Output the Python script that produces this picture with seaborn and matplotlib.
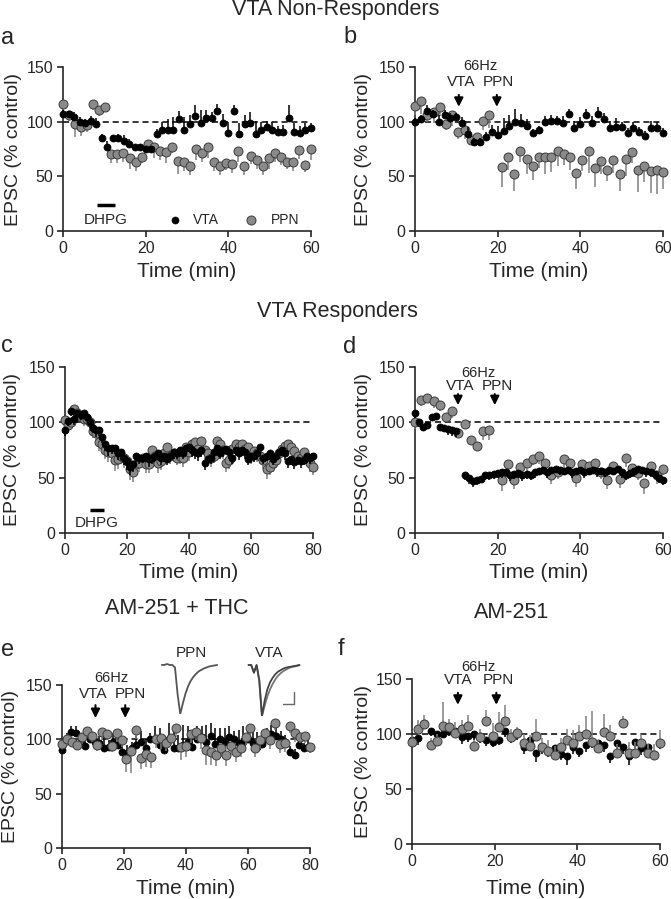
import numpy as np
import matplotlib
matplotlib.use("Agg")
import matplotlib.pyplot as plt
import seaborn as sns
from matplotlib.lines import Line2D

# ---------------- data ----------------
# a: VTA non-responders, DHPG
a_vta = [107, 107, 104, 100, 99, 101, 98, 85, 77, 85, 85, 82, 80, 77, 77, 75, 75, 89, 92, 92,
         92, 102, 92, 98, 105, 99, 103, 103, 110, 99, 90, 110, 89, 98, 99, 89, 92, 95, 92, 91,
         91, 103, 91, 90, 92, 94]
a_vta_err = [4, 3, 5, 4, 3, 4, 5, 4, 5, 3, 4, 6, 4, 3, 3, 3, 3, 4, 8, 10,
             12, 8, 12, 8, 10, 12, 8, 6, 6, 8, 10, 5, 10, 8, 10, 12, 8, 6, 8, 5,
             6, 12, 8, 6, 7, 5]
a_ppn = [116, 106, 98, 95, 97, 116, 111, 113, 70, 70, 71, 67, 63, 68, 80, 77, 73, 72, 77, 64,
         63, 59, 75, 71, 77, 63, 59, 62, 61, 73, 59, 69, 65, 59, 67, 71, 68, 63, 63, 74,
         60, 75]
a_ppn_err = [5, 5, 12, 8, 6, 5, 6, 4, 8, 8, 8, 10, 8, 6, 8, 10, 8, 10, 6, 12,
             8, 8, 10, 8, 10, 8, 8, 6, 8, 10, 8, 8, 8, 8, 10, 8, 8, 6, 8, 8,
             6, 10]

# b: VTA non-responders, 66 Hz
b_vta = [100, 102, 110, 107, 100, 106, 103, 104, 99, 89, 81, 81, 86, 90.5, 88, 91.5, 96, 100, 99, 96,
         89.6, 92, 100, 101, 100.6, 99, 107, 94.5, 98, 106, 99, 107, 102, 94.5, 95, 95, 89.6, 94, 90.5, 86.6,
         94.5, 94, 89.6]
b_vta_err = [3, 4, 5, 4, 6, 5, 5, 4, 5, 6, 4, 4, 5, 6, 8, 12, 10, 12, 8, 6,
             4, 4, 5, 5, 5, 6, 5, 6, 6, 6, 6, 6, 6, 6, 8, 5, 5, 6, 5, 5,
             6, 6, 5]
b_ppn_pre = [114, 119, 106, 109, 113, 97.6, 106, 90.5, 92, 83, 86, 100.6, 106]
b_ppn_pre_err = [8, 12, 6, 10, 8, 5, 10, 6, 8, 4, 5, 8, 12]
b_ppn_post = [58.5, 68, 52, 73, 66, 59, 68, 67.7, 68, 73, 70, 68, 53, 64.6, 73, 58, 64, 55.5, 64.6, 52,
              66, 72, 56, 59, 55, 56, 54]
b_ppn_post_err = [18, 12, 15, 10, 14, 12, 10, 16, 14, 14, 10, 12, 15, 10, 20, 18, 12, 10, 12, 15,
                  16, 10, 20, 14, 20, 22, 16]

# c: VTA responders, DHPG
c_vta = [93, 101, 110, 103, 108, 107, 108, 105, 100, 95, 93, 93, 87, 80, 77, 77, 77, 72, 73, 68,
         65, 60, 62, 70, 68, 68, 70, 67, 68, 70, 72, 68, 70, 67, 70, 73, 72, 75, 72, 77,
         78, 75, 73, 72, 75, 63, 67, 68, 73, 77, 72, 75, 76, 73, 68, 75, 72, 75, 73, 67,
         70, 70, 72, 78, 68, 70, 72, 67, 70, 73, 75, 72, 65, 67, 64, 66, 65, 66, 70, 68,
         70]
c_vta_err = [5, 4, 4, 5, 4, 5, 4, 4, 5, 5, 6, 5, 6, 6, 7, 6, 6, 6, 7, 7,
             8, 8, 7, 6, 6, 5, 6, 7, 6, 5, 6, 7, 6, 6, 5, 6, 5, 6, 5, 6,
             5, 6, 6, 7, 6, 6, 5, 6, 5, 6, 5, 6, 5, 6, 6, 5, 6, 5, 6, 6,
             7, 6, 5, 6, 6, 5, 6, 6, 5, 6, 5, 6, 6, 6, 6, 5, 6, 5, 6, 6,
             5]
c_ppn = [102, 98, 100, 112, 108, 105, 103, 103, 100, 92, 90, 82, 80, 75, 73, 72, 66, 67, 70, 68,
         65, 58, 55, 62, 63, 68, 62, 62, 75, 70, 63, 65, 72, 78, 70, 72, 68, 70, 68, 78,
         73, 80, 82, 76, 83, 75, 72, 68, 70, 83, 80, 75, 63, 66, 76, 80, 78, 80, 76, 78,
         70, 74, 72, 70, 66, 58, 60, 63, 66, 72, 76, 79, 80, 78, 74, 70, 68, 73, 68, 63,
         60]
c_ppn_err = [6, 5, 5, 6, 5, 5, 6, 5, 6, 6, 7, 8, 8, 8, 9, 9, 10, 9, 8, 9,
             9, 10, 9, 8, 8, 7, 8, 8, 7, 8, 9, 8, 8, 7, 8, 8, 7, 8, 8, 7,
             8, 7, 8, 8, 7, 8, 8, 8, 7, 8, 7, 8, 8, 8, 7, 8, 7, 7, 8, 7,
             8, 7, 8, 8, 8, 9, 8, 8, 7, 8, 7, 7, 8, 7, 8, 8, 7, 8, 7, 8,
             8]

# d: VTA responders, 66 Hz
d_vta_pre = [108, 100, 96, 98, 105, 106, 96, 95, 94, 93, 92]
d_vta_pre_err = [4, 4, 4, 4, 3, 3, 4, 4, 5, 5, 5]
d_vta_post = [52, 50, 47, 48, 49, 52, 52, 53, 54, 55, 55, 52, 53, 54, 52, 53, 52, 55, 56, 57,
              55, 57, 58, 57, 56, 57, 55, 56, 57, 55, 56, 57, 56, 56, 55, 57, 56, 58, 55, 52,
              54, 56, 58, 57, 56, 55, 53, 50, 48]
d_vta_post_err = [4, 6, 5, 5, 4, 4, 4, 4, 4, 5, 4, 5, 4, 4, 5, 4, 4, 5, 4, 4,
                  5, 4, 4, 5, 4, 4, 5, 4, 4, 5, 4, 4, 5, 4, 4, 5, 4, 4, 5, 4,
                  4, 5, 4, 4, 5, 4, 4, 5, 5]
d_ppn_pre = [100, 120, 122, 119, 116, 105, 110, 90, 98.6, 84, 78.6, 92, 93]
d_ppn_pre_err = [6, 5, 4, 6, 6, 5, 6, 4, 5, 4, 3, 8, 9]
d_ppn_post = [48, 62, 48, 60, 63.5, 67, 70, 63, 52, 55, 67, 63, 50, 62, 60.5, 63.5, 55, 48, 60.5, 49,
              68, 59, 54, 45, 60.5, 52, 58]
d_ppn_post_err = [10, 8, 8, 6, 8, 6, 8, 8, 8, 6, 8, 8, 8, 8, 6, 8, 6, 8, 6, 8,
                  8, 8, 6, 10, 8, 8, 6]

# e: AM-251 + THC
e_vta = [90, 100, 107, 106, 98, 94, 100, 98, 97, 92, 93, 98, 95, 88, 87, 92, 95, 98, 92, 100,
         100, 95, 90, 100, 92, 92, 95, 98, 93, 100, 102, 98, 103, 96, 100, 98, 102, 100, 97, 98,
         100, 97, 93, 96, 100, 105, 103, 100, 98, 88, 86, 95, 92, 93]
e_vta_err = [4, 6, 5, 6, 5, 5, 6, 8, 6, 10, 6, 8, 8, 10, 8, 6, 8, 10, 8, 6,
             12, 15, 10, 15, 16, 12, 18, 14, 10, 12, 10, 15, 12, 14, 10, 12, 10, 8, 12, 14,
             12, 10, 14, 12, 10, 8, 10, 8, 6, 6, 5, 6, 5, 6]
e_ppn = [96, 100, 98, 95, 102, 108, 103, 95, 107, 105, 94, 105.6, 99, 82, 89, 108.7, 82.6, 86.6, 84, 100,
         101, 97, 101, 110, 93, 94, 105, 107, 101, 90, 88, 85.7, 91.8, 85.7, 94, 88.8, 91.8, 102.5, 110, 91.8,
         99.5, 105.6, 99.5, 114.8, 95.8, 96.4, 112, 106, 102.5, 103, 93]
e_ppn_err = [5, 6, 5, 5, 6, 6, 5, 6, 8, 6, 6, 8, 6, 12, 20, 8, 10, 12, 10, 8,
             10, 8, 6, 8, 12, 10, 8, 8, 10, 14, 12, 10, 8, 10, 8, 10, 8, 8, 6, 8,
             8, 6, 8, 6, 8, 8, 6, 8, 6, 6, 6]

# f: AM-251
f_vta = [95, 96, 110, 103, 100, 100, 103, 103, 97, 98, 100, 98, 95, 93, 95, 103, 97, 100, 88, 95,
         83, 88, 85, 87, 82, 80, 88, 85, 90, 93, 92, 90, 80, 92, 88, 80, 93, 87, 88, 82,
         92]
f_vta_err = [5, 6, 5, 5, 4, 4, 5, 5, 6, 5, 5, 6, 6, 5, 5, 6, 5, 5, 6, 6,
             8, 6, 6, 6, 6, 8, 6, 6, 6, 6, 8, 6, 6, 8, 6, 8, 6, 6, 6, 6,
             6]
f_ppn = [93, 104.5, 109, 90, 94, 107.5, 106, 101, 105, 107.5, 88.7, 97, 112, 97.8, 106, 112, 97, 100.8, 91.7, 89,
         98, 88, 85, 81, 88, 94.7, 92, 97.8, 100, 93, 87, 102, 98, 82.6, 110, 82.6, 82.6, 92, 82.6, 80.5,
         92]
f_ppn_err = [6, 8, 8, 6, 6, 22, 8, 10, 8, 10, 6, 8, 10, 12, 14, 14, 8, 6, 8, 10,
             16, 8, 10, 8, 8, 10, 12, 10, 16, 28, 8, 16, 10, 8, 6, 10, 10, 8, 8, 10,
             12]

# example EPSC traces in panel e (normalised amplitude)
ppn_trace = [0, 0, 0.02, 0, 0, -0.05, -0.6, -1.0, -0.78, -0.58, -0.43, -0.32, -0.24, -0.18,
             -0.13, -0.1, -0.07, -0.05, -0.03, -0.02, -0.01, 0]
vta_trace_1 = [0, 0, -0.15, 0, -0.3, -1.0, -0.7, -0.48, -0.34, -0.25, -0.18, -0.13, -0.1,
               -0.07, -0.05, -0.04, -0.03, -0.02, -0.01, 0]
vta_trace_2 = [0, 0, -0.15, 0, -0.3, -1.0, -0.8, -0.62, -0.48, -0.37, -0.28, -0.21, -0.16,
               -0.12, -0.09, -0.06, -0.04, -0.03, -0.02, 0]

# ---------------- style ----------------
sns.set_style("ticks")
plt.rcParams['font.family'] = ['Liberation Sans', 'DejaVu Sans']

W, H = 671, 899
GRAY = '#8a8a8a'
GRAY_EDGE = '#3c3c3c'
GRAY_BAR = '#808080'

fig = plt.figure(figsize=(W / 100, H / 100), dpi=100)


def px_axes(left, top, right, bottom):
    return fig.add_axes([left / W, 1 - bottom / H, (right - left) / W, (bottom - top) / H])


def setup(ax, xmax, xticks, ylab_x, xlab_y):
    ax.set_xlim(0, xmax)
    ax.set_ylim(0, 150)
    ax.set_xticks(xticks)
    ax.set_yticks([0, 50, 100, 150])
    ax.axhline(100, color='black', lw=1.1, ls=(0, (4, 2.5)), zorder=1)
    sns.despine(ax=ax)
    for s in ['left', 'bottom']:
        ax.spines[s].set_linewidth(1.2)
    ax.tick_params(direction='out', length=4, width=1.2, labelsize=11.5, pad=3)
    ax.set_xlabel('Time (min)', fontsize=15)
    ax.set_ylabel('EPSC (% control)', fontsize=14)
    ax.xaxis.set_label_coords(0.5, xlab_y)
    ax.yaxis.set_label_coords(ylab_x, 0.5)


def series(ax, t, v, err, sign, gray, z):
    t = np.asarray(t, float)
    v = np.asarray(v, float)
    e = np.asarray(err, float)
    if gray:
        ax.vlines(t, v, v + sign * e, colors=GRAY_BAR, lw=1.1, zorder=z, clip_on=False)
        sns.scatterplot(x=t, y=v, ax=ax, color=GRAY, edgecolor=GRAY_EDGE, linewidth=0.7,
                        s=42, zorder=z + 0.5, clip_on=False, legend=False)
    else:
        ax.vlines(t, v, v + sign * e, colors='black', lw=1.1, zorder=z, clip_on=False)
        sns.scatterplot(x=t, y=v, ax=ax, color='black', edgecolor='black', linewidth=0.5,
                        s=26, zorder=z + 0.5, clip_on=False, legend=False)


def stim_arrows(ax, arrows_x, labels_x, y_top, y_tip, y_lbl, y_hz):
    for x in arrows_x:
        ax.annotate('', xy=(x, y_tip), xytext=(x, y_top), annotation_clip=False,
                    arrowprops=dict(arrowstyle='-|>', color='black', lw=1.5, mutation_scale=13))
    ax.text(labels_x[0], y_lbl, 'VTA', ha='center', va='center', fontsize=11, clip_on=False)
    ax.text(labels_x[1], y_lbl, 'PPN', ha='center', va='center', fontsize=11, clip_on=False)
    ax.text(sum(labels_x) / 2, y_hz, '66Hz', ha='center', va='center', fontsize=10.5, clip_on=False)


# ---------------- panel a ----------------
ax = px_axes(63, 67, 311, 231)
setup(ax, 60, [0, 20, 40, 60], -0.165, -0.19)
series(ax, np.linspace(0, 60, len(a_ppn)), a_ppn, a_ppn_err, -1, True, 3)
series(ax, np.linspace(0, 60, len(a_vta)), a_vta, a_vta_err, 1, False, 4)
ax.plot([8.3, 12.5], [24, 24], color='black', lw=2.5, solid_capstyle='butt')
ax.text(10.3, 10, 'DHPG', ha='center', va='center', fontsize=11)
sns.scatterplot(x=[27], y=[10], ax=ax, color='black', edgecolor='black', s=26, legend=False)
ax.text(34.7, 10, 'VTA', ha='center', va='center', fontsize=10)
sns.scatterplot(x=[45.6], y=[10], ax=ax, color=GRAY, edgecolor=GRAY_EDGE, linewidth=0.7, s=42,
                legend=False)
ax.text(53.7, 10, 'PPN', ha='center', va='center', fontsize=10)

# ---------------- panel b ----------------
ax = px_axes(415, 67, 663, 231)
setup(ax, 60, [0, 20, 40, 60], -0.173, -0.19)
series(ax, np.linspace(0, 18, len(b_ppn_pre)), b_ppn_pre, b_ppn_pre_err, -1, True, 3)
series(ax, np.linspace(21, 60, len(b_ppn_post)), b_ppn_post, b_ppn_post_err, -1, True, 3)
series(ax, np.linspace(0, 60, len(b_vta)), b_vta, b_vta_err, 1, False, 4)
stim_arrows(ax, (10.6, 19.8), (11.2, 20.2), 127, 111, 136, 151)

# ---------------- panel c ----------------
ax = px_axes(65, 367, 313, 533)
setup(ax, 80, [0, 20, 40, 60, 80], -0.177, -0.18)
series(ax, np.linspace(0, 80, len(c_ppn)), c_ppn, c_ppn_err, -1, True, 3)
series(ax, np.linspace(0, 80, len(c_vta)), c_vta, c_vta_err, -1, False, 4)
ax.plot([8, 12.7], [21, 21], color='black', lw=2.5, solid_capstyle='butt')
ax.text(10.2, 9, 'DHPG', ha='center', va='center', fontsize=11)

# ---------------- panel d ----------------
ax = px_axes(415, 367, 663, 533)
setup(ax, 60, [0, 20, 40, 60], -0.173, -0.18)
series(ax, np.linspace(0, 18, len(d_ppn_pre)), d_ppn_pre, d_ppn_pre_err, -1, True, 3)
series(ax, np.linspace(21, 60, len(d_ppn_post)), d_ppn_post, d_ppn_post_err, -1, True, 3)
series(ax, np.linspace(0, 10, len(d_vta_pre)), d_vta_pre, d_vta_pre_err, -1, False, 4)
series(ax, np.linspace(12, 60, len(d_vta_post)), d_vta_post, d_vta_post_err, -1, False, 4)
stim_arrows(ax, (10.4, 19.3), (10.9, 20.0), 128, 113, 132.5, 145)

# ---------------- panel e ----------------
ax = px_axes(62, 685, 310, 848)
setup(ax, 80, [0, 20, 40, 60, 80], -0.175, -0.19)
series(ax, np.linspace(0, 79.5, len(e_vta)), e_vta, e_vta_err, 1, False, 3)
series(ax, np.linspace(0, 80, len(e_ppn)), e_ppn, e_ppn_err, -1, True, 4)
stim_arrows(ax, (10.8, 20.4), (10.0, 21.9), 134, 117, 141.5, 156)

# example traces
tr = fig.add_axes([159 / W, 1 - 714 / H, 61 / W, 51 / H])
tr.plot(np.arange(len(ppn_trace)), ppn_trace, color='#555555', lw=1.3)
tr.set_ylim(-1.0, 0.04)
tr.axis('off')
tr = fig.add_axes([246 / W, 1 - 716 / H, 56 / W, 53 / H])
tr.plot(np.arange(len(vta_trace_2)), vta_trace_2, color='#777777', lw=1.3)
tr.plot(np.arange(len(vta_trace_1)), vta_trace_1, color='#444444', lw=1.3)
tr.set_ylim(-1.0, 0.04)
tr.axis('off')
fig.add_artist(Line2D([283 / W, 294 / W, 294 / W], [1 - 704 / H, 1 - 704 / H, 1 - 692 / H],
                      transform=fig.transFigure, color='#666666', lw=1.0))
fig.text(191 / W, 1 - 653 / H, 'PPN', ha='center', va='center', fontsize=11)
fig.text(269 / W, 1 - 653 / H, 'VTA', ha='center', va='center', fontsize=11)

# ---------------- panel f ----------------
ax = px_axes(412, 679, 660, 844)
setup(ax, 60, [0, 20, 40, 60], -0.16, -0.21)
series(ax, np.linspace(0, 60, len(f_vta)), f_vta, f_vta_err, -1, False, 3)
series(ax, np.linspace(0, 60, len(f_ppn)), f_ppn, f_ppn_err, 1, True, 4)
stim_arrows(ax, (11.1, 20.4), (11.1, 20.8), 140, 124, 149, 161)

# ---------------- titles and panel letters ----------------
fig.text(0.5, 1 - 10 / H, 'VTA Non-Responders', ha='center', va='center', fontsize=15.5)
fig.text(337 / W, 1 - 312 / H, 'VTA Responders', ha='center', va='center', fontsize=15.5)
fig.text(177 / W, 1 - 609 / H, 'AM-251 + THC', ha='center', va='center', fontsize=15.5)
fig.text(512 / W, 1 - 612 / H, 'AM-251', ha='center', va='center', fontsize=15.5)
for letter, x, y in [('a', 1, 38), ('b', 343, 37), ('c', 1, 346), ('d', 343, 347),
                     ('e', 1, 650), ('f', 338, 649)]:
    fig.text(x / W, 1 - y / H, letter, ha='left', va='center', fontsize=17)

fig.savefig('out.png', dpi=100)
